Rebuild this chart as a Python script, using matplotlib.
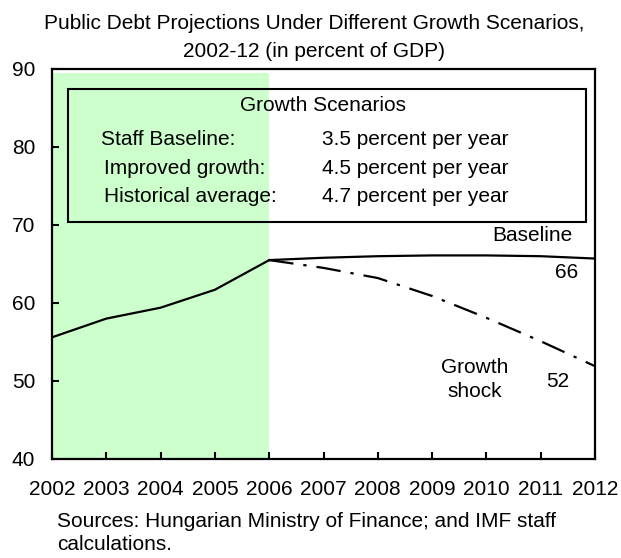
import matplotlib
matplotlib.use('Agg')
import matplotlib.pyplot as plt
import matplotlib.patches as patches

plt.rcParams['font.family'] = ['Liberation Sans', 'DejaVu Sans']

# data
hist_years = [2002, 2003, 2004, 2005, 2006]
hist_debt = [55.6, 58.0, 59.4, 61.7, 65.5]
proj_years = [2006, 2007, 2008, 2009, 2010, 2011, 2012]
baseline = [65.5, 65.8, 66.0, 66.1, 66.1, 66.0, 65.7]
growth_shock = [65.5, 64.5, 63.2, 60.9, 58.1, 55.1, 51.9]

scenario_names = ['Staff Baseline:', 'Improved growth:', 'Historical average:']
scenario_rates = ['3.5 percent per year', '4.5 percent per year', '4.7 percent per year']

title = 'Public Debt Projections Under Different Growth Scenarios,\n2002-12 (in percent of GDP)'
source = 'Sources: Hungarian Ministry of Finance; and IMF staff\ncalculations.'

fs = 15
fig = plt.figure(figsize=(6.21, 5.58), dpi=100)
ax = fig.add_axes([52 / 621, 1 - 459 / 558, 543 / 621, 390 / 558])

# shaded history period
ax.add_patch(patches.Rectangle((2002, 40), 4, 49.5, facecolor='#ccffcc',
                               edgecolor='none', zorder=0))

ax.plot(hist_years, hist_debt, color='black', lw=1.6, zorder=3)
ax.plot(proj_years, baseline, color='black', lw=1.6, zorder=3)
ax.plot(proj_years, growth_shock, color='black', lw=1.6,
        dashes=(11, 4.5, 1.5, 4.5), zorder=3)

# scenario box
ax.add_patch(patches.Rectangle((2002.3, 70.4), 9.53, 17.1, facecolor='none',
                               edgecolor='black', lw=1.5, zorder=4))
ax.text(2007.0, 85.3, 'Growth Scenarios', ha='center', va='center', fontsize=fs)
ys = [81.0, 77.2, 73.7]
xs = [2002.91, 2002.95, 2002.95]
for name, rate, x, y in zip(scenario_names, scenario_rates, xs, ys):
    ax.text(x, y, name, ha='left', va='center', fontsize=fs)
    ax.text(2006.97, y, rate, ha='left', va='center', fontsize=fs)

ax.text(2011.58, 68.7, 'Baseline', ha='right', va='center', fontsize=fs)
ax.text(2011.47, 63.85, '66', ha='center', va='center', fontsize=fs)
ax.text(2009.78, 50.2, 'Growth\nshock', ha='center', va='center', fontsize=fs,
        linespacing=1.3)
ax.text(2011.32, 49.9, '52', ha='center', va='center', fontsize=fs)

ax.set_xlim(2002, 2012)
ax.set_ylim(40, 90)
ax.set_xticks(range(2002, 2013))
ax.set_yticks(range(40, 91, 10))
ax.tick_params(axis='x', direction='in', length=5, width=1.5, pad=15, labelsize=fs)
ax.tick_params(axis='y', direction='in', length=5, width=1.5, pad=12, labelsize=fs)
for s in ax.spines.values():
    s.set_linewidth(1.6)

fig.text(314 / 621, 1 - 37.5 / 558, title, ha='center', va='center',
         fontsize=fs, linespacing=1.6)
fig.text(57 / 621, 1 - 512 / 558, source, ha='left', va='top', fontsize=fs,
         linespacing=1.25)

fig.savefig('out.png', dpi=100)
